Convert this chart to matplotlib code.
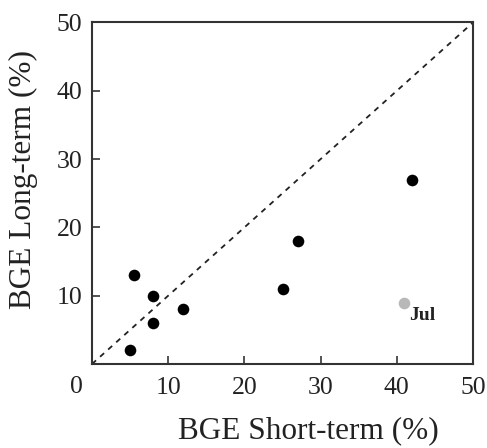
import matplotlib
matplotlib.use('Agg')
import matplotlib.pyplot as plt
import numpy as np

# BGE estimates (%), short-term vs long-term
short_term = [5.5, 8, 8, 5, 12, 25, 27, 42]
long_term = [13, 10, 6, 2, 8, 11, 18, 27]
jul_short = 41
jul_long = 9
ticks = [10, 20, 30, 40, 50]

plt.rcParams['font.family'] = 'Liberation Serif'

fig = plt.figure(figsize=(4.87, 4.48), dpi=100)
ax = fig.add_axes([92/487., 1-364/448., (473-92)/487., (364-22.5)/448.])

ax.plot([0, 50], [0, 50], linestyle=(0, (3, 3)), color='#222222', lw=1.3)
ax.scatter(short_term, long_term, s=70, c='black', lw=0, zorder=3)
ax.scatter([jul_short], [jul_long], s=70, c='#b8b8b8', lw=0, zorder=3)
ax.text(jul_short + 0.6, jul_long - 0.7, 'Jul', fontsize=14, fontweight='bold',
        va='top', ha='left', color='#222222')

ax.set_xlim(0, 50)
ax.set_ylim(0, 50)
ax.set_xticks(ticks)
ax.set_yticks(ticks)
ax.tick_params(direction='in', length=6, width=1.3, colors='#444444',
               labelcolor='#222222', labelsize=18.5)
ax.tick_params(axis='x', pad=9)
ax.tick_params(axis='y', pad=7)
ax.text(-0.025, -0.035, '0', transform=ax.transAxes, fontsize=18.5,
        ha='right', va='top', color='#222222')
for s in ax.spines.values():
    s.set_linewidth(1.5)
    s.set_color('#333333')

ax.set_xlabel('BGE Short-term (%)', fontsize=22.5, color='#222222')
ax.set_ylabel('BGE Long-term (%)', fontsize=22.5, color='#222222')
ax.xaxis.set_label_coords(0.568, -0.152)
ax.yaxis.set_label_coords(-0.143, 0.539)

fig.savefig('out.png', dpi=100)
